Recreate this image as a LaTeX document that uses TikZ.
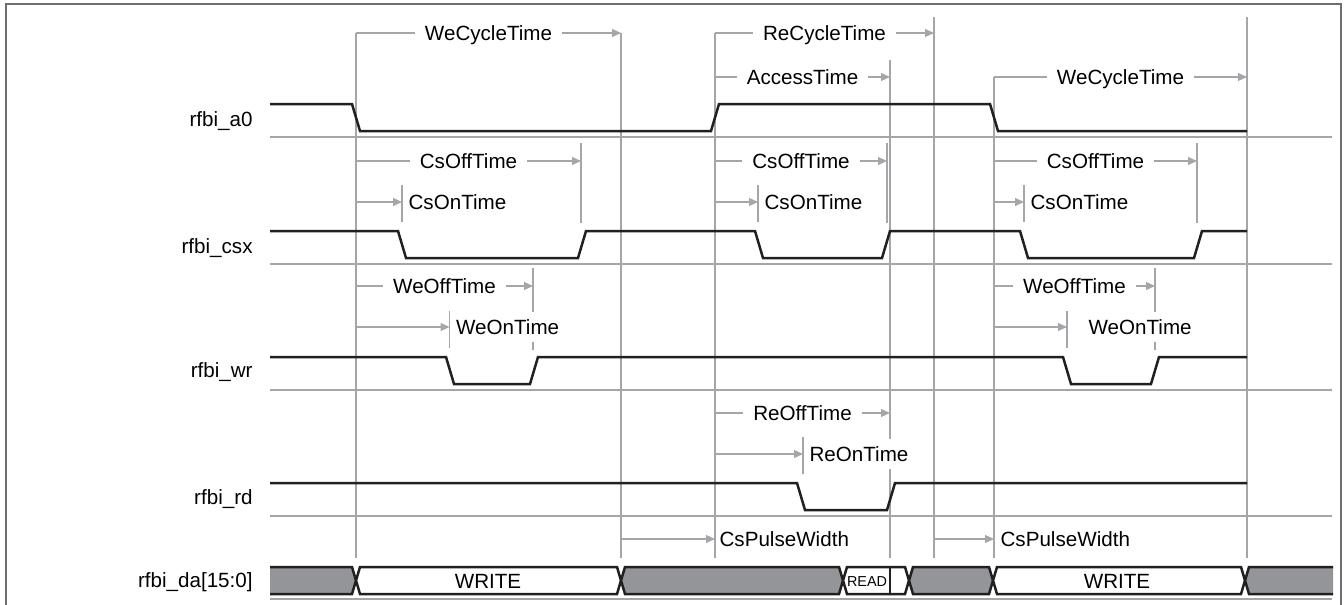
\documentclass[tikz,border=0pt]{standalone}
\usepackage{fontspec}
\setmainfont{Liberation Sans}
\usepackage{tikz}
\usetikzlibrary{arrows.meta}

\definecolor{guidegray}{HTML}{A4A6A9}
\definecolor{busgray}{HTML}{939598}
\definecolor{waveblack}{HTML}{231F20}
\definecolor{framegray}{HTML}{6D6E71}

\begin{document}
\begin{tikzpicture}[
    x=0.5pt, y=-0.5pt,
    >={Triangle[length=4.5pt, width=4pt]},
    font=\fontsize{10.3}{12}\selectfont,
    wave/.style={draw=waveblack, line width=1.25pt},
    guide/.style={draw=guidegray, line width=0.6pt},
    timing/.style={guide, ->},
    tlabel/.style={fill=white, inner xsep=5pt, inner ysep=1pt, text height=7.4pt, text depth=0pt},
    tnote/.style={fill=white, anchor=west, inner xsep=0.5pt, inner ysep=4pt, text height=7.4pt, text depth=0pt, xshift=#1},
    tnote/.default=2.5pt,
    signame/.style={anchor=east, inner sep=0pt, text height=7.4pt, text depth=0pt},
    busdata/.style={wave, fill=busgray},
    busword/.style={wave, fill=white},
    bustext/.style={inner sep=0pt, text height=7.4pt, text depth=0pt}
]
\useasboundingbox (0,0) rectangle (1344,605);

% Frame, open at the bottom
\draw[framegray, line width=0.8pt] (6,605) -- (6,4) -- (1341,4) -- (1341,605);

% Time marks
\coordinate (tWeA) at (356,0);
\coordinate (tWeEndA) at (621,0);
\coordinate (tRe) at (715,0);
\coordinate (tAccess) at (890,0);
\coordinate (tReEnd) at (934,0);
\coordinate (tWeB) at (994,0);
\coordinate (tWeEndB) at (1247,0);

% Rows of the timing arrows
\coordinate (rowTop) at (0,17);
\coordinate (rowCycle) at (0,33);
\coordinate (rowAccessTop) at (0,60);
\coordinate (rowAccess) at (0,77);
\coordinate (rowCsOff) at (0,161);
\coordinate (rowCsOn) at (0,202);
\coordinate (rowWeOff) at (0,286);
\coordinate (rowWeOn) at (0,327);
\coordinate (rowReOff) at (0,413);
\coordinate (rowReOn) at (0,454);
\coordinate (rowPulse) at (0,539);
\coordinate (rowEnd) at (0,558);

% Short end marks (top of each mark)
\coordinate (csOffA) at (581,143);
\coordinate (csOnA) at (402,185);
\coordinate (weOffA) at (533,268);
\coordinate (weOnA) at (449.5,311);
\coordinate (csOffB) at (887,143);
\coordinate (csOnB) at (758,185);
\coordinate (reOn) at (803,437);
\coordinate (csOffC) at (1197,143);
\coordinate (csOnC) at (1024,185);
\coordinate (weOffB) at (1155,268);
\coordinate (weOnB) at (1067,311);

% Long guide lines
\draw[guide] (tWeA |- rowCycle) -- (tWeA |- rowEnd);
\draw[guide] (tWeEndA |- rowCycle) -- (tWeEndA |- rowEnd);
\draw[guide] (tRe |- rowCycle) -- (tRe |- rowEnd);
\draw[guide] (tAccess |- rowAccessTop) -- (tAccess |- rowEnd);
\draw[guide] (tReEnd |- rowTop) -- (tReEnd |- rowEnd);
\draw[guide] (tWeB |- rowAccess) -- (tWeB |- rowEnd);
\draw[guide] (tWeEndB |- rowTop) -- (tWeEndB |- rowEnd);

% Short end marks
\draw[guide] (csOffA) -- ++(0,80);
\draw[guide] (csOffB) -- ++(0,80);
\draw[guide] (csOffC) -- ++(0,80);
\draw[guide] (csOnA) -- ++(0,37);
\draw[guide] (csOnB) -- ++(0,37);
\draw[guide] (csOnC) -- ++(0,37);
\draw[guide] (weOffA) -- ++(0,82);
\draw[guide] (weOffB) -- ++(0,82);
\draw[guide] (weOnA) -- ++(0,37);
\draw[guide] (weOnB) -- ++(0,37);
\draw[guide] (reOn) -- ++(0,37);

% Baselines under each signal
\draw[guide] (270,137) -- (1332,137) (270,264) -- (1332,264) (270,390) -- (1332,390)
    (270,516) -- (1332,516) (270,599) -- (1332,599);

% Timing arrows
\draw[timing] (tWeA |- rowCycle) -- node[tlabel] (lblWeCycA) {WeCycleTime} (tWeEndA |- rowCycle);
\draw[timing] (tRe |- rowCycle) -- node[tlabel] (lblReCyc) {ReCycleTime} (tReEnd |- rowCycle);
\draw[timing] (tRe |- rowAccess) -- node[tlabel] (lblAccess) {AccessTime} (tAccess |- rowAccess);
\draw[timing] (tWeB |- rowAccess) -- node[tlabel] (lblWeCycB) {WeCycleTime} (tWeEndB |- rowAccess);
\draw[timing] (tWeA |- rowCsOff) -- node[tlabel] (lblCsOffA) {CsOffTime} (csOffA |- rowCsOff);
\draw[timing] (tRe |- rowCsOff) -- node[tlabel] (lblCsOffB) {CsOffTime} (csOffB |- rowCsOff);
\draw[timing] (tWeB |- rowCsOff) -- node[tlabel] (lblCsOffC) {CsOffTime} (csOffC |- rowCsOff);
\draw[timing] (tWeA |- rowCsOn) -- (csOnA |- rowCsOn) node[tnote] (lblCsOnA) {CsOnTime};
\draw[timing] (tRe |- rowCsOn) -- (csOnB |- rowCsOn) node[tnote] (lblCsOnB) {CsOnTime};
\draw[timing] (tWeB |- rowCsOn) -- (csOnC |- rowCsOn) node[tnote] (lblCsOnC) {CsOnTime};
\draw[timing] (tWeA |- rowWeOff) -- node[tlabel] (lblWeOffA) {WeOffTime} (weOffA |- rowWeOff);
\draw[timing] (tWeB |- rowWeOff) -- node[tlabel] (lblWeOffB) {WeOffTime} (weOffB |- rowWeOff);
\draw[timing] (tWeA |- rowWeOn) -- (weOnA |- rowWeOn) node[tnote] (lblWeOnA) {WeOnTime};
\draw[timing] (tWeB |- rowWeOn) -- (weOnB |- rowWeOn) node[tnote=10pt] (lblWeOnB) {WeOnTime};
\draw[timing] (tRe |- rowReOff) -- node[tlabel] (lblReOff) {ReOffTime} (tAccess |- rowReOff);
\draw[timing] (tRe |- rowReOn) -- (reOn |- rowReOn) node[tnote] (lblReOn) {ReOnTime};
\draw[timing] (tWeEndA |- rowPulse) -- (tRe |- rowPulse) node[tnote=1.5pt] (lblPulseA) {CsPulseWidth};
\draw[timing] (tReEnd |- rowPulse) -- (tWeB |- rowPulse) node[tnote] (lblPulseB) {CsPulseWidth};

% Signal waves
\draw[wave] (270,104) -- (352,104) -- (360,131) -- (711,131) -- (719,104) -- (990,104) -- (998,131) -- (1247,131);
\draw[wave] (270,231) -- (398,231) -- (406,258) -- (578,258) -- (586,231) -- (755,231) -- (763,258)
    -- (882,258) -- (890,231) -- (1020,231) -- (1028,258) -- (1194,258) -- (1202,231) -- (1247,231);
\draw[wave] (270,357) -- (446,357) -- (454,384) -- (530,384) -- (538,357) -- (1063,357) -- (1071,384)
    -- (1151,384) -- (1159,357) -- (1247,357);
\draw[wave] (270,483) -- (797,483) -- (805,510) -- (887,510) -- (895,483) -- (1247,483);

% Data bus
\draw[busdata] (270,567) -- (352,567) -- (356,580.5) -- (352,594) -- (270,594);
\draw[busword] (356,580.5) -- (360,567) -- (617,567) -- (621,580.5) -- (617,594) -- (360,594) -- cycle;
\draw[busdata] (621,580.5) -- (625,567) -- (839,567) -- (843,580.5) -- (839,594) -- (625,594) -- cycle;
\draw[busword] (843,580.5) -- (847,567) -- (905,567) -- (909,580.5) -- (905,594) -- (847,594) -- cycle;
\draw[waveblack, line width=0.6pt] (890,567) -- (890,594);
\draw[busdata] (909,580.5) -- (913,567) -- (989,567) -- (993,580.5) -- (989,594) -- (913,594) -- cycle;
\draw[busword] (993,580.5) -- (997,567) -- (1241,567) -- (1245,580.5) -- (1241,594) -- (997,594) -- cycle;
\draw[busdata] (1333,567) -- (1249,567) -- (1245,580.5) -- (1249,594) -- (1333,594);
\node[bustext] (busWriteA) at (488,581) {WRITE};
\node[bustext, font=\fontsize{7.2}{8}\selectfont, text height=5.2pt] (busRead) at (867,581) {READ};
\node[bustext] (busWriteB) at (1117,581) {WRITE};

% Signal names
\node[signame] (nameA0) at (253,119) {rfbi\_a0};
\node[signame] (nameCsx) at (253,246) {rfbi\_csx};
\node[signame] (nameWr) at (253,370) {rfbi\_wr};
\node[signame] (nameRd) at (253,497) {rfbi\_rd};
\node[signame] (nameDa) at (253,580) {rfbi\_da[15:0]};
\end{tikzpicture}
\end{document}
